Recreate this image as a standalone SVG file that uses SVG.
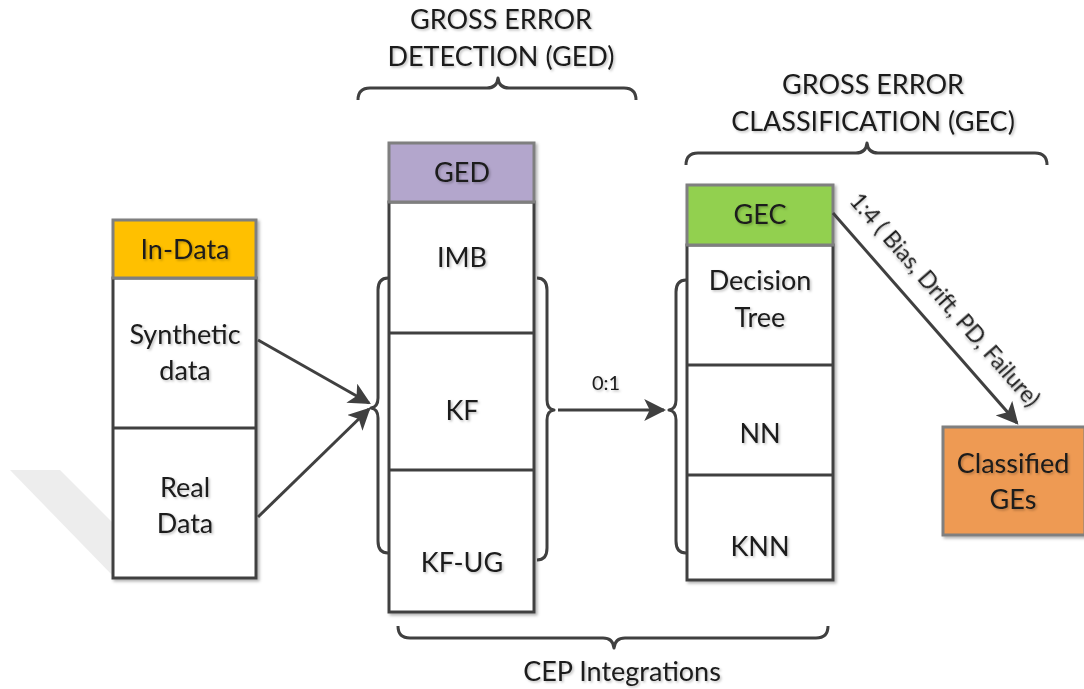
<svg xmlns="http://www.w3.org/2000/svg" width="1084" height="689" viewBox="0 0 1084 689">
<defs>
<filter id="sh" x="-10%" y="-10%" width="130%" height="130%"><feDropShadow dx="2" dy="2" stdDeviation="1.5" flood-color="#000" flood-opacity="0.3"/></filter>
<filter id="tsh" x="-10%" y="-10%" width="130%" height="140%"><feDropShadow dx="1.5" dy="1.5" stdDeviation="1" flood-color="#000" flood-opacity="0.25"/></filter>
<marker id="ahb" viewBox="0 0 10 10" refX="9" refY="5" markerWidth="22" markerHeight="22" orient="auto" markerUnits="userSpaceOnUse"><path d="M0,0 L10,5 L0,10 L2.5,5 Z" fill="#404040"/></marker>
</defs>
<style>
.t{font-family:Lato,"Open Sans",sans-serif;font-size:27px;fill:#1a1a1a;text-anchor:middle;filter:url(#tsh)}
.s{font-family:Lato,"Open Sans",sans-serif;font-size:23px;fill:#1a1a1a;filter:url(#tsh)}
.cell{fill:#fff;stroke:#404040;stroke-width:3}
.hd{stroke:#7f7f7f;stroke-width:3}
.br{fill:none;stroke:#404040;stroke-width:3;stroke-linejoin:round}
.ln{stroke:#404040;stroke-width:3;fill:none}
</style>
<rect width="1084" height="689" fill="#fff"/>
<polygon points="10,470 60,470 115,525 115,578" fill="#ededed"/>

<g id="in-data" filter="url(#sh)">
<rect class="cell" x="113" y="278" width="143" height="300"/>
<line class="ln" x1="113" y1="428" x2="256" y2="428"/>
<rect class="hd" x="113" y="220" width="143" height="58" fill="#FFC000"/>
</g>
<g id="in-data-text">
<text class="t" x="185" y="259">In-Data</text>
<text class="t" x="185" y="344">Synthetic</text>
<text class="t" x="185" y="380">data</text>
<text class="t" x="185" y="497">Real</text>
<text class="t" x="185" y="533">Data</text>
</g>

<g id="ged" filter="url(#sh)">
<rect class="cell" x="389" y="202" width="145" height="410"/>
<line class="ln" x1="389" y1="333" x2="534" y2="333"/>
<line class="ln" x1="389" y1="470" x2="534" y2="470"/>
<rect class="hd" x="389" y="143" width="145" height="59" fill="#B3A6CC"/>
</g>
<g id="ged-text">
<text class="t" x="462" y="182">GED</text>
<text class="t" x="462" y="267">IMB</text>
<text class="t" x="462" y="420">KF</text>
<text class="t" x="462" y="572">KF-UG</text>
</g>

<g id="gec" filter="url(#sh)">
<rect class="cell" x="687" y="245" width="146" height="335"/>
<line class="ln" x1="687" y1="365" x2="833" y2="365"/>
<line class="ln" x1="687" y1="475" x2="833" y2="475"/>
<rect class="hd" x="687" y="185" width="146" height="60" fill="#92D050"/>
</g>
<g id="gec-text">
<text class="t" x="760" y="224">GEC</text>
<text class="t" x="760" y="290">Decision</text>
<text class="t" x="760" y="327">Tree</text>
<text class="t" x="760" y="443">NN</text>
<text class="t" x="760" y="556">KNN</text>
</g>

<g id="classified" filter="url(#sh)">
<rect class="hd" x="943" y="427" width="142" height="108" fill="#EE9A52"/>
</g>
<g id="classified-text">
<text class="t" x="1013" y="473">Classified</text>
<text class="t" x="1013" y="509">GEs</text>
</g>

<g id="braces">
<path class="br" d="M388,278 Q378,278 378,290 L378,398 Q378,407 371,408 Q378,409 378,418 L378,541 Q378,553 388,553"/>
<path class="br" d="M537,278 Q547,278 547,290 L547,400 Q547,409 554,410 Q547,411 547,420 L547,548 Q547,560 537,560"/>
<path class="br" d="M686,280 Q676,280 676,292 L676,400 Q676,409 669,410 Q676,411 676,420 L676,541 Q676,553 686,553"/>
<path class="br" d="M358,100 Q358,88 370,88 L487,88 Q497,88 498,78 Q499,88 509,88 L624,88 Q636,88 636,100"/>
<path class="br" d="M686,165 Q686,153 698,153 L856,153 Q866,153 867,143 Q868,153 878,153 L1035,153 Q1047,153 1047,165"/>
<path class="br" d="M398,626 Q398,638 410,638 L603,638 Q613,638 614,648 Q615,638 625,638 L816,638 Q828,638 828,626"/>
</g>
<g id="brace-labels">
<text class="t" x="501" y="29">GROSS ERROR</text>
<text class="t" x="501" y="66">DETECTION (GED)</text>
<text class="t" x="873" y="94">GROSS ERROR</text>
<text class="t" x="873" y="131">CLASSIFICATION (GEC)</text>
<text class="t" x="622" y="681">CEP Integrations</text>
</g>

<g id="connectors">
<line class="ln" x1="258" y1="340" x2="369" y2="403" marker-end="url(#ahb)"/>
<line class="ln" x1="258" y1="517" x2="369" y2="409" marker-end="url(#ahb)"/>
<line class="ln" x1="558" y1="410" x2="664" y2="410" marker-end="url(#ahb)"/>
<line class="ln" x1="833" y1="213" x2="1017" y2="423" marker-end="url(#ahb)"/>
<text class="s" x="606" y="390" text-anchor="middle" style="font-size:20px">0:1</text>
<text class="s" transform="translate(939,305) rotate(48.8)" text-anchor="middle">1:4 ( Bias, Drift, PD, Failure)</text>
</g>
</svg>
